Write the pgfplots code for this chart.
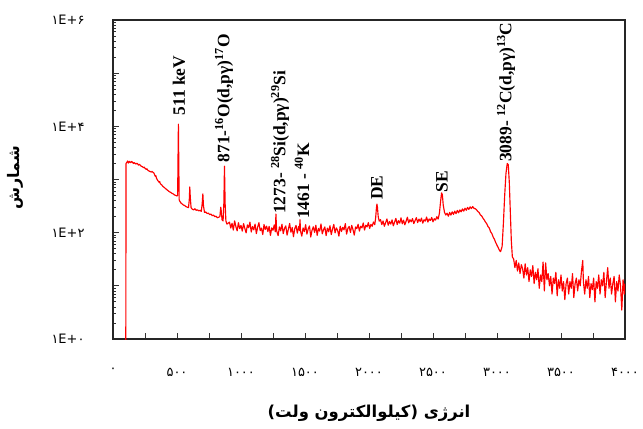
\documentclass[border=0pt]{standalone}
\usepackage{fontspec}
\usepackage{pgfplots}
\usepackage{pgfplotstable}
\pgfplotsset{compat=1.18}
\setmainfont{Liberation Serif}
\newfontfamily\persianfont[Script=Arabic]{DejaVu Sans}
\TeXXeTstate=1

\pgfplotstableread{
E c
100 0.8
102 2000
110 2140
115 2230
120 2040
125 2150
130 2190
135 2080
140 2090
145 2180
150 2140
160 2000
165 2080
170 2040
180 1950
185 2010
190 2000
200 1860
205 1930
210 1900
220 1780
230 1740
240 1660
245 1700
250 1620
260 1550
265 1590
270 1510
280 1450
290 1410
300 1380
305 1420
310 1380
320 1320
330 1150
335 1180
340 1050
350 955
360 890
365 910
370 830
380 795
390 740
400 710
410 676
420 645
430 617
440 589
450 575
460 550
470 537
480 513
490 501
500 490
505 501
508 2510
511 10960
514 2000
517 417
520 398
530 363
540 347
550 331
560 324
570 309
580 302
590 295
596 417
600 724
604 457
610 295
620 275
630 269
640 282
650 263
660 269
670 257
680 263
690 251
697 355
702 537
707 316
715 240
725 245
735 229
745 234
755 219
765 224
775 209
785 214
795 200
805 204
815 191
825 195
835 200
842 302
846 251
852 174
860 166
866 355
871 1780
876 355
882 166
890 145
900 151
910 158
920 122
930 150
940 112
950 167
960 130
970 108
980 154
990 119
1000 137
1010 107
1020 148
1030 120
1040 99
1050 140
1060 124
1070 158
1080 103
1090 131
1100 113
1110 145
1120 96
1130 127
1140 154
1150 109
1160 122
1170 92
1180 142
1190 115
1200 133
1210 105
1220 131
1230 89
1240 123
1250 111
1260 140
1268 104
1273 224
1278 110
1290 88
1300 128
1310 108
1320 144
1330 96
1340 120
1350 134
1360 90
1370 116
1380 149
1390 102
1400 125
1410 84
1420 119
1430 137
1440 98
1450 131
1457 110
1461 175
1465 107
1475 86
1485 123
1495 105
1505 141
1515 94
1525 117
1535 134
1545 83
1555 111
1565 129
1575 101
1585 138
1595 89
1605 120
1615 107
1625 146
1635 95
1645 114
1655 128
1665 88
1675 122
1685 104
1695 135
1705 92
1715 117
1725 143
1735 99
1745 123
1755 110
1765 86
1775 132
1785 105
1795 126
1805 113
1815 148
1825 94
1835 120
1845 131
1855 101
1865 137
1875 114
1885 90
1895 128
1905 119
1915 144
1925 107
1935 132
1945 123
1955 152
1965 112
1975 138
1985 128
1995 155
2005 120
2015 143
2025 132
2035 159
2045 141
2052 190
2058 290
2062 345
2066 300
2072 200
2080 165
2090 176
2100 142
2110 166
2120 132
2130 154
2140 181
2150 138
2160 162
2170 145
2180 174
2190 135
2200 158
2210 186
2220 142
2230 168
2240 151
2250 190
2260 147
2270 172
2280 140
2290 165
2300 195
2310 153
2320 175
2330 160
2340 184
2350 148
2360 169
2370 191
2380 155
2390 180
2400 162
2410 188
2420 151
2430 175
2440 165
2450 197
2460 158
2470 181
2480 170
2490 193
2500 160
2510 183
2520 173
2530 200
2540 180
2550 230
2560 400
2567 560
2573 520
2580 330
2590 240
2600 215
2610 232
2620 204
2630 240
2640 214
2650 246
2660 221
2670 254
2680 228
2690 262
2700 236
2710 268
2720 246
2730 280
2740 254
2750 288
2760 264
2770 298
2780 274
2790 306
2800 284
2810 310
2820 287
2830 282
2840 270
2850 250
2860 240
2870 216
2880 207
2890 188
2900 174
2910 158
2920 147
2930 130
2940 122
2950 104
2960 96
2970 83
2980 75
2990 65
3000 58
3010 52
3020 46
3028 44
3040 55
3050 150
3060 500
3070 1300
3080 2000
3088 1900
3096 900
3104 250
3112 70
3120 35
3130 32
3140 22
3150 30
3160 19
3170 27
3180 17
3190 25
3200 21
3210 14
3220 26
3230 16
3240 22
3250 12
3260 20
3270 15
3280 24
3290 11
3300 18
3310 13
3320 21
3330 9
3340 16
3350 12
3360 28
3370 8
3380 27
3390 13
3400 17
3410 10
3420 15
3430 7
3440 14
3450 11
3460 18
3470 6.5
3480 13
3490 9
3500 16
3510 8
3520 12
3530 5.5
3540 11
3550 14
3560 7
3570 12
3580 9
3590 17
3600 6
3610 11
3620 14
3630 8
3640 13
3650 10
3660 19
3670 30
3675 12
3685 7
3695 13
3705 9
3715 15
3725 6
3735 11
3745 8.5
3755 14
3765 5
3775 12
3785 9
3795 16
3805 7
3815 13
3825 10
3835 18
3845 6
3855 12
3865 22
3875 9
3885 14
3895 7
3905 11
3915 15
3925 5
3935 12
3945 8
3955 16
3965 10
3975 3.5
3985 13
3995 7
4000 11
}\spectrum

\begin{document}
\begin{tikzpicture}
\useasboundingbox (-113bp,-90bp) rectangle (530bp,339bp);
\begin{axis}[
  scale only axis, width=512bp, height=319bp,
  at={(0,0)}, anchor=south west,
  xmin=0, xmax=4000, ymode=log, ymin=1, ymax=1000000,
  axis line style={line width=1.2pt, black!85},
  xtick={0,250,...,4000},
  xticklabels={۰,,۵۰۰,,۱۰۰۰,,۱۵۰۰,,۲۰۰۰,,۲۵۰۰,,۳۰۰۰,,۳۵۰۰,,۴۰۰۰},
  ytick={1,10,100,1000,10000,100000,1000000},
  yticklabels={۱E+۰,,۱E+۲,,۱E+۴,,۱E+۶},
  minor ytick={2,3,4,5,6,7,8,9,20,30,40,50,60,70,80,90,200,300,400,500,600,700,800,900,2000,3000,4000,5000,6000,7000,8000,9000,20000,30000,40000,50000,60000,70000,80000,90000,200000,300000,400000,500000,600000,700000,800000,900000},
  tick align=inside, xtick pos=bottom, ytick pos=left,
  major tick length=6bp, minor tick length=3.5bp,
  tick style={black!80, line width=0.7pt},
  xticklabel style={font=\persianfont\fontsize{13}{15}\selectfont, yshift=-26bp},
  yticklabel style={font=\persianfont\fontsize{13}{15}\selectfont, xshift=-25bp},
  xlabel={\persianfont\bfseries\beginR انرژی (کیلوالکترون ولت)\endR},
  xlabel style={at={(axis description cs:0.5,-0.232)}, anchor=center, font=\fontsize{16.5}{19}\selectfont},
  ylabel={\persianfont\bfseries\beginR شمارش\endR},
  ylabel style={at={(axis description cs:-0.19,0.505)}, anchor=center, font=\fontsize{16}{19}\selectfont},
  clip=true,
]
\addplot[red, line width=1.15pt, line join=round] table[x=E, y=c] {\spectrum};
\begin{scope}[every node/.style={rotate=90, anchor=west, inner sep=0pt, font=\bfseries\fontsize{17.5}{20}\selectfont}]
\node at (axis cs:516,16000) {511 keV};
\node at (axis cs:867,2100) {871-\textsuperscript{16}O(d,pγ)\textsuperscript{17}O};
\node at (axis cs:1305,224) {1273- \textsuperscript{28}Si(d,pγ)\textsuperscript{29}Si};
\node at (axis cs:1477,181) {1461 - \textsuperscript{40}K};
\node at (axis cs:2062,410) {DE};
\node at (axis cs:2570,560) {SE};
\node at (axis cs:3070,2140) {3089- \textsuperscript{12}C(d,pγ)\textsuperscript{13}C};
\end{scope}
\end{axis}
\end{tikzpicture}
\end{document}
